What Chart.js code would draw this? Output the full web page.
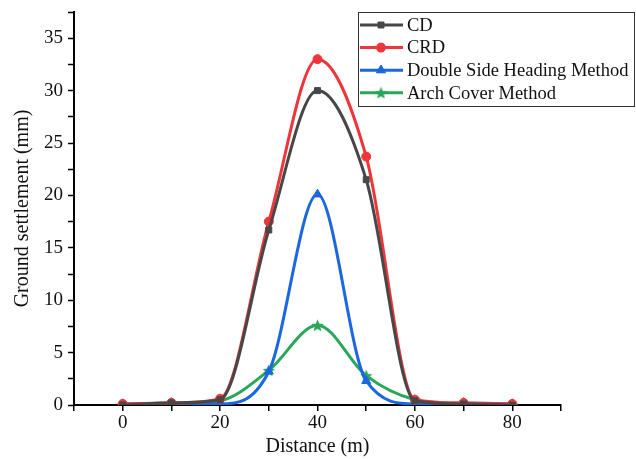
<!DOCTYPE html>
<html><head><meta charset="utf-8">
<script src="https://cdn.jsdelivr.net/npm/chart.js@4/dist/chart.umd.min.js"></script>
<style>html,body{margin:0;padding:0;background:#fff}#wrap{width:636px;height:459px}</style>
</head><body><div id="wrap"><canvas id="c" width="636" height="459"></canvas></div>
<script>
const distances = [0, 10, 20, 30, 40, 50, 60, 70, 80];
const cdValues = [0.0, 0.2, 0.5, 16.7, 30.0, 21.5, 0.4, 0.1, 0.0];
const crdValues = [0.1, 0.2, 0.6, 17.5, 33.0, 23.7, 0.5, 0.2, 0.1];
const doubleSideValues = [0.1, 0.2, 0.1, 3.2, 20.1, 2.3, 0.1, 0.2, 0.1];
const archCoverValues = [0.0, 0.1, 0.4, 3.3, 7.6, 2.8, 0.5, 0.1, 0.0];
const seriesNames = ['CD', 'CRD', 'Double Side Heading Method', 'Arch Cover Method'];
const xTicks = [0, 20, 40, 60, 80];
const yTicks = [0, 5, 10, 15, 20, 25, 30, 35];

const FONT = '"Liberation Serif", "Times New Roman", serif';
const colors = ['#474747', '#f0353a', '#1b67e0', '#2aa65a'];

function starImage(color, size) {
  const c = document.createElement('canvas');
  c.width = size; c.height = size;
  const g = c.getContext('2d');
  const cx = size / 2, cy = size / 2 + 0.5, R = size / 2, r = R * 0.45;
  g.beginPath();
  for (let k = 0; k < 10; k++) {
    const a = -Math.PI / 2 + k * Math.PI / 5;
    const rr = k % 2 === 0 ? R : r;
    const px = cx + rr * Math.cos(a), py = cy + rr * Math.sin(a);
    k === 0 ? g.moveTo(px, py) : g.lineTo(px, py);
  }
  g.closePath();
  g.fillStyle = color;
  g.fill();
  return c;
}
const starImg = starImage(colors[3], 13);
const styles = ['rect', 'circle', 'triangle', starImg];
const radii = [4.2, 4.5, 5.2, 6];
const vals = [cdValues, crdValues, doubleSideValues, archCoverValues];

const datasets = vals.map((v, i) => ({
  label: seriesNames[i],
  data: distances.map((d, j) => ({x: d, y: v[j]})),
  borderColor: colors[i],
  backgroundColor: colors[i],
  borderWidth: 3,
  pointStyle: styles[i],
  pointRadius: radii[i],
  pointBorderWidth: 1,
  pointBorderColor: colors[i],
  pointBackgroundColor: colors[i],
  cubicInterpolationMode: 'monotone',
  fill: false
}));

const legendPlugin = {
  id: 'boxLegend',
  afterDraw(chart) {
    const ctx = chart.ctx;
    const x0 = 358, y0 = 12, w = 276, h = 94;
    ctx.save();
    ctx.fillStyle = '#fff';
    ctx.fillRect(x0, y0, w, h);
    ctx.strokeStyle = '#333';
    ctx.lineWidth = 1;
    ctx.strokeRect(x0 + 0.5, y0 + 0.5, w, h);
    ctx.font = '18.5px ' + FONT;
    ctx.textBaseline = 'middle';
    chart.data.datasets.forEach((ds, i) => {
      const y = 25 + i * 22.6;
      ctx.strokeStyle = ds.borderColor;
      ctx.lineWidth = 3;
      ctx.beginPath();
      ctx.moveTo(360, y);
      ctx.lineTo(403, y);
      ctx.stroke();
      ctx.fillStyle = ds.borderColor;
      ctx.strokeStyle = ds.borderColor;
      ctx.lineWidth = 1;
      Chart.helpers.drawPoint(ctx, {pointStyle: ds.pointStyle, radius: ds.pointRadius, borderWidth: 1}, 381, y);
      ctx.fill();
      ctx.fillStyle = '#111';
      ctx.fillText(ds.label, 407, y + 1);
    });
    ctx.restore();
  }
};

new Chart(document.getElementById('c'), {
  type: 'line',
  data: {datasets},
  plugins: [legendPlugin],
  options: {
    responsive: false,
    animation: false,
    layout: {padding: {top: 12, right: 75, left: 0, bottom: 0}},
    plugins: {legend: {display: false}, tooltip: {enabled: false}},
    scales: {
      x: {
        type: 'linear', min: -10, max: 90,
        afterBuildTicks(s) { s.ticks = [-10, 0, 10, 20, 30, 40, 50, 60, 70, 80, 90].map(v => ({value: v})); },
        afterFit(s) { s.height = 54; s.paddingLeft = 0; s.paddingRight = 0; },
        grid: {display: true, drawOnChartArea: false, drawTicks: true, tickLength: 6, color: '#000', tickWidth: 1.5,
               lineWidth: 1.5},
        border: {display: true, color: '#000', width: 2},
        ticks: {
          color: '#111', font: {family: FONT, size: 19}, padding: 1, maxRotation: 0, autoSkip: false,
          callback: v => xTicks.includes(v) ? String(v) : ''
        },
        title: {display: true, text: 'Distance (m)', color: '#111', font: {family: FONT, size: 20}, padding: {top: 0, bottom: 0}}
      },
      y: {
        type: 'linear', min: 0, max: 37.5,
        afterBuildTicks(s) { const t = []; for (let v = 0; v <= 37.5; v += 2.5) t.push({value: v}); s.ticks = t; },
        afterFit(s) { s.width = 74; s.paddingTop = 0; s.paddingBottom = 0; },
        grid: {display: true, drawOnChartArea: false, drawTicks: true, tickLength: 6, color: '#000', tickWidth: 1.5},
        border: {display: true, color: '#000', width: 2},
        ticks: {
          color: '#111', font: {family: FONT, size: 19}, padding: 5, autoSkip: false,
          callback: v => yTicks.includes(v) ? String(v) : ''
        },
        title: {display: true, text: 'Ground settlement (mm)', color: '#111', font: {family: FONT, size: 20}, padding: {top: 11, bottom: 4}}
      }
    }
  }
});
</script>
</body></html>
